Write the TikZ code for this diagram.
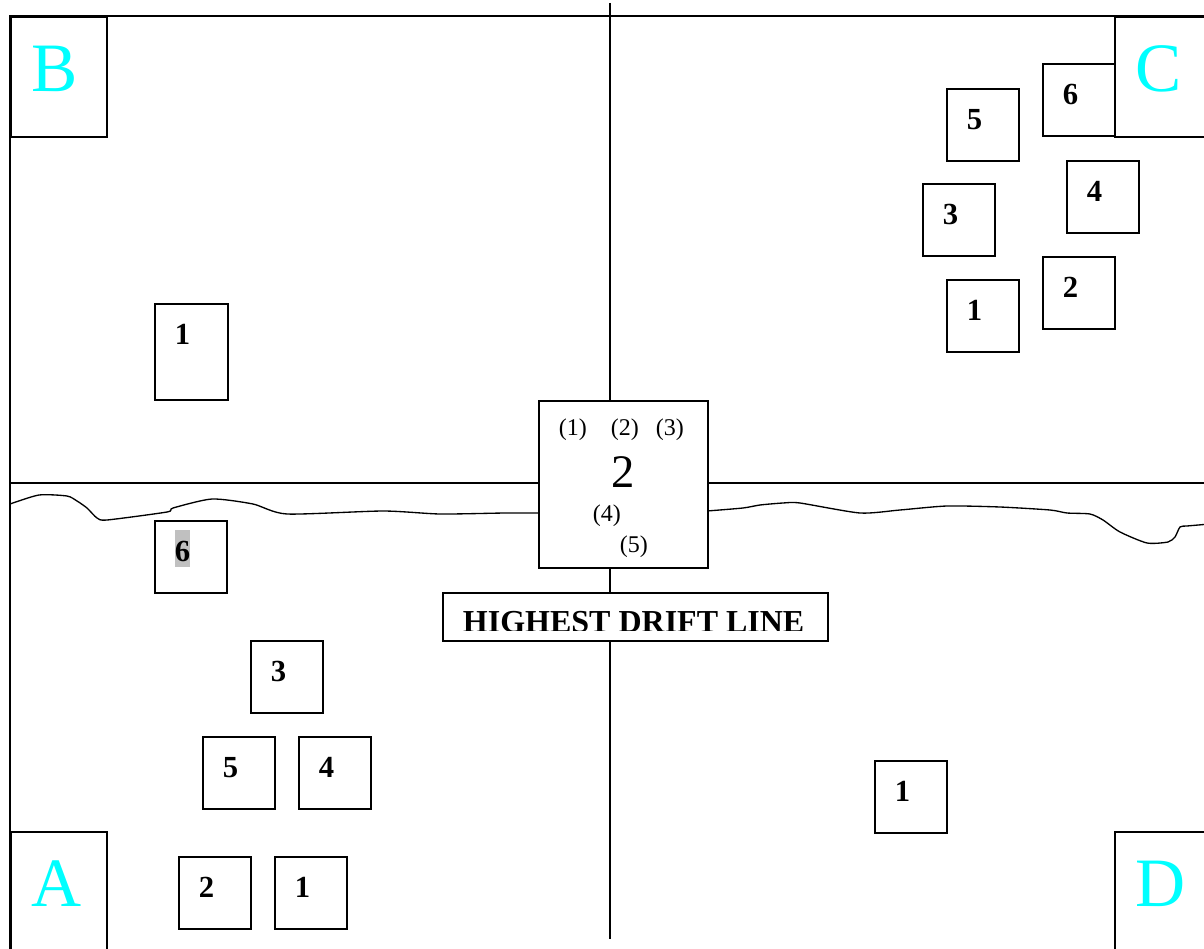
\documentclass[tikz,border=0pt]{standalone}
\usepackage{fontspec}
\setmainfont{Liberation Serif}
\definecolor{quadcyan}{RGB}{0,255,255}
\definecolor{hlgray}{RGB}{192,192,192}
\usetikzlibrary{positioning}

\begin{document}
\begin{tikzpicture}[x=0.75pt,y=-0.75pt,line width=1.4pt,
    plotbox/.style={draw,anchor=north west,inner xsep=15pt,inner ysep=0pt,
      text width=24pt,align=left,text height=30.75pt,text depth=23.25pt,
      font=\fontsize{23}{23}\selectfont\bfseries},
    cornerbox/.style={draw,anchor=north west,inner xsep=15.75pt,inner ysep=0pt,
      text width=40.5pt,align=left,text height=56.25pt,text depth=33.75pt,
      text=quadcyan,font=\fontsize{52}{52}\selectfont},
    plotnum/.style={anchor=base west,inner sep=0pt,font=\fontsize{18}{18}\selectfont}]
  \useasboundingbox (0,0) rectangle (1204,949);
  \clip (0,0) rectangle (1204,949);
  % field frame and cross
  \draw (1210,16) -- (10,16) -- (10,955);
  \draw (10,483) -- (1210,483);
  \draw (610,3) -- (610,939);
  % drift line
  \draw[line width=1pt] plot[smooth,tension=0.4] coordinates {(10,504) (39,495) (67,496) (77,501)
    (87,508) (97,518) (107,520) (167,512) (173,508) (212,499) (253,504) (287,514) (383,511)
    (440,514) (505,513) (541,513)};
  \draw[line width=1pt] plot[smooth,tension=0.4] coordinates {(707,511) (743,508) (760,505)
    (783,503) (800,503) (860,513) (900,510) (947,506) (1000,507) (1050,510) (1067,513) (1090,514)
    (1103,520) (1120,532) (1147,543) (1168,542) (1175,537) (1180,527) (1187,526) (1210,524)};
  % quadrant corners
  \node[cornerbox] (quadB) at (10,16) {B};
  \node[cornerbox] (quadC) at (1114,16) {C};
  \node[cornerbox] (quadA) at (10,831) {A};
  \node[cornerbox] (quadD) at (1114,831) {D};
  % centre plot
  \node[draw,fill=white,anchor=north west,minimum width=126.75pt,minimum height=125.25pt]
    (centre) at (538,400) {};
  \node[plotnum] (cp1) at (558,435) {(1)};
  \node[plotnum] (cp2) at (610,435) {(2)};
  \node[plotnum] (cp3) at (655,435) {(3)};
  \node[plotnum,font=\fontsize{35}{35}\selectfont] (ctwo) at (611,487) {2};
  \node[plotnum] (cp4) at (592,521) {(4)};
  \node[plotnum] (cp5) at (619,552) {(5)};
  \node[draw,fill=white,anchor=north west,minimum width=288.75pt,minimum height=36pt]
    (drift) at (442,592) {};
  \begin{scope}
    \clip (443,593) rectangle (825,630);
    \node[anchor=base west,inner sep=0pt,font=\fontsize{24}{24}\selectfont\bfseries]
      (driftlabel) at (462,632) {HIGHEST DRIFT LINE};
  \end{scope}
  % quadrant B
  \node[plotbox,text depth=41.25pt,text width=24.75pt] (b1) at (154,303) {1};
  % quadrant A
  \node[plotbox] (a6) at (154,520)
    {{\setlength{\fboxsep}{0pt}\colorbox{hlgray}{\rule[-3.75pt]{0pt}{27.75pt}6}}};
  \node[plotbox] (a3) at (250,640) {3};
  \node[plotbox] (a5) at (202,736) {5};
  \node[plotbox] (a4) at (298,736) {4};
  \node[plotbox] (a2) at (178,856) {2};
  \node[plotbox] (a1) at (274,856) {1};
  % quadrant C
  \node[plotbox] (c6) at (1042,63) {6};
  \node[plotbox] (c5) at (946,88) {5};
  \node[plotbox] (c4) at (1066,160) {4};
  \node[plotbox] (c3) at (922,183) {3};
  \node[plotbox] (c2) at (1042,256) {2};
  \node[plotbox] (c1) at (946,279) {1};
  % quadrant D
  \node[plotbox] (d1) at (874,760) {1};
\end{tikzpicture}
\end{document}
